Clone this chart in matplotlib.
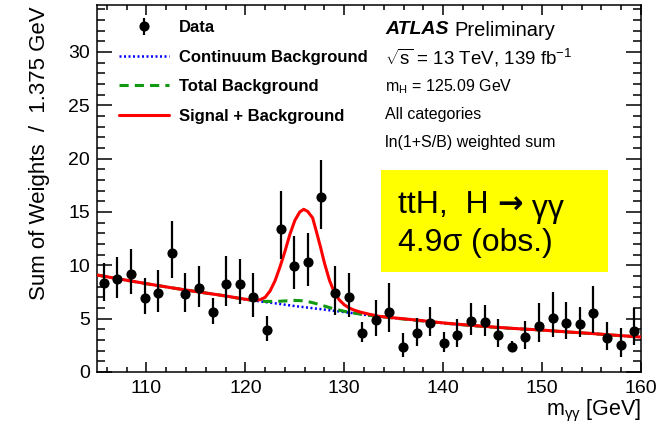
import matplotlib
matplotlib.use("Agg")
import matplotlib.pyplot as plt
from matplotlib.ticker import MultipleLocator, FixedLocator
from matplotlib.patches import Rectangle

plt.rcParams['font.family'] = ['Liberation Sans', 'DejaVu Sans']
plt.rcParams['mathtext.fontset'] = 'custom'
plt.rcParams['mathtext.rm'] = 'Liberation Sans'
plt.rcParams['mathtext.it'] = 'Liberation Sans:italic'
plt.rcParams['mathtext.bf'] = 'Liberation Sans:bold'

# ---------------- data ----------------
bin_centers = [105.6875, 107.0625, 108.4375, 109.8125, 111.1875, 112.5625, 113.9375, 115.3125,
               116.6875, 118.0625, 119.4375, 120.8125, 122.1875, 123.5625, 124.9375, 126.3125,
               127.6875, 129.0625, 130.4375, 131.8125, 133.1875, 134.5625, 135.9375, 137.3125,
               138.6875, 140.0625, 141.4375, 142.8125, 144.1875, 145.5625, 146.9375, 148.3125,
               149.6875, 151.0625, 152.4375, 153.8125, 155.1875, 156.5625, 157.9375, 159.3125]
data_values = [8.31, 8.69, 9.18, 6.94, 7.44, 11.15, 7.28, 7.84, 5.59, 8.22,
               8.25, 7.06, 3.94, 13.43, 9.96, 10.31, 16.37, 7.37, 7.00, 3.62,
               4.87, 5.65, 2.37, 3.62, 4.56, 2.75, 3.47, 4.80, 4.66, 3.47,
               2.31, 3.31, 4.34, 5.09, 4.59, 4.53, 5.50, 3.22, 2.53, 3.87]
err_up = [1.90, 2.06, 2.32, 1.86, 2.16, 3.00, 2.02, 2.09, 1.31, 2.65,
          2.35, 2.24, 1.31, 3.57, 2.79, 2.69, 3.53, 2.59, 2.25, 1.04,
          1.88, 2.65, 1.25, 1.41, 1.50, 1.00, 1.47, 1.70, 1.62, 1.50,
          0.63, 1.50, 2.10, 2.44, 1.94, 1.53, 2.59, 1.50, 1.63, 2.10]
err_down = [1.70, 1.79, 1.88, 1.54, 1.79, 2.35, 1.63, 1.74, 1.09, 2.02,
            1.85, 1.86, 1.04, 2.83, 2.21, 2.25, 2.97, 2.03, 1.80, 0.84,
            1.47, 1.87, 0.94, 1.19, 1.16, 0.85, 1.10, 1.33, 1.26, 1.10,
            0.41, 1.15, 1.50, 1.78, 1.50, 1.22, 1.88, 1.16, 1.09, 1.34]

# continuum background curve
cont_m = [105.0, 107.5, 110.0, 112.5, 115.0, 117.5, 120.0, 121.0, 122.0, 123.0, 124.0, 125.0,
          126.0, 127.0, 128.0, 129.0, 130.0, 131.0, 132.0, 132.5, 135.0, 137.5, 140.0, 142.5,
          145.0, 147.5, 150.0, 152.5, 155.0, 157.5, 160.0]
cont_y = [9.09, 8.68, 8.28, 7.90, 7.54, 7.20, 6.80, 6.68, 6.56, 6.44, 6.31, 6.18,
          6.07, 5.96, 5.85, 5.73, 5.62, 5.50, 5.37, 5.30, 5.06, 4.82, 4.58, 4.38,
          4.20, 4.05, 3.92, 3.75, 3.60, 3.43, 3.27]

# total background curve
totbkg_m = [105.0, 107.5, 110.0, 112.5, 115.0, 117.5, 120.0, 121.0, 122.0, 123.0, 124.0, 125.0,
            126.0, 127.0, 128.0, 129.0, 130.0, 131.0, 132.0, 132.5, 135.0, 137.5, 140.0, 142.5,
            145.0, 147.5, 150.0, 152.5, 155.0, 157.5, 160.0]
totbkg_y = [9.09, 8.68, 8.28, 7.90, 7.54, 7.20, 6.80, 6.70, 6.62, 6.61, 6.66, 6.71,
            6.67, 6.45, 6.18, 5.90, 5.69, 5.52, 5.38, 5.31, 5.06, 4.82, 4.58, 4.38,
            4.20, 4.05, 3.92, 3.75, 3.60, 3.43, 3.27]

# signal + background curve
sb_m = [105.0, 107.5, 110.0, 112.5, 115.0, 117.5, 120.0, 121.0, 121.5, 122.0, 122.5, 123.0,
        123.5, 124.0, 124.5, 125.0, 125.5, 125.9, 126.3, 126.8, 127.2, 127.6, 128.0, 128.5,
        129.0, 129.5, 130.0, 130.5, 131.0, 131.6, 132.5, 133.5, 135.0, 137.5, 140.0, 142.5,
        145.0, 147.5, 150.0, 152.5, 155.0, 157.5, 160.0]
sb_y = [9.09, 8.68, 8.28, 7.90, 7.54, 7.20, 6.82, 6.73, 6.78, 7.00, 7.60, 8.55,
        9.85, 11.30, 12.90, 14.20, 15.00, 15.25, 15.05, 14.45, 13.10, 11.70, 10.20, 8.60,
        7.45, 6.75, 6.30, 6.00, 5.80, 5.62, 5.42, 5.22, 5.08, 4.85, 4.60, 4.40,
        4.22, 4.06, 3.93, 3.76, 3.61, 3.44, 3.28]

x_ticks = [110, 120, 130, 140, 150, 160]
y_ticks = [0, 5, 10, 15, 20, 25, 30]

# ---------------- figure ----------------
W, H = 668, 428
fig = plt.figure(figsize=(W / 100, H / 100), dpi=100)
ax = fig.add_axes([97 / W, 1 - 372 / H, 544 / W, 367 / H])

l_cont, = ax.plot(cont_m, cont_y, color='#0000ff', lw=1.8, linestyle=(0, (0.8, 1.0)),
                  label='Continuum Background', zorder=2)
l_tot, = ax.plot(totbkg_m, totbkg_y, color='#119911', lw=2.2, linestyle=(0, (3, 2)),
                 label='Total Background', zorder=3)
l_sb, = ax.plot(sb_m, sb_y, color='#ff0000', lw=2.2, label='Signal + Background', zorder=4,
                solid_capstyle='round')
eb = ax.errorbar(bin_centers, data_values, yerr=[err_down, err_up], fmt='o', color='black',
                 ms=6.3, elinewidth=1.6, capsize=0, label='Data', zorder=5)

ax.set_xlim(105, 160)
ax.set_ylim(0, 34.4)
ax.xaxis.set_major_locator(FixedLocator(x_ticks))
ax.xaxis.set_minor_locator(MultipleLocator(2))
ax.yaxis.set_major_locator(FixedLocator(y_ticks))
ax.yaxis.set_minor_locator(MultipleLocator(1))
ax.tick_params(which='both', direction='in', top=True, right=True, width=1.1,
               labelsize=14, colors='black')
ax.tick_params(axis='x', which='major', length=7.5, pad=6)
ax.tick_params(axis='x', which='minor', length=3.8)
ax.tick_params(axis='y', which='major', length=11, pad=5)
ax.tick_params(axis='y', which='minor', length=5.5)
for s in ax.spines.values():
    s.set_linewidth(1.1)

fig.text(40 / W, 1 - 6 / H, 'Sum of Weights  /  1.375 GeV', rotation=90, ha='center',
         va='top', fontsize=16)
fig.text(641 / W, 1 - 411 / H, r'm$_{\mathrm{γγ}}$ [GeV]', ha='right', va='center',
         fontsize=15.5)

# legend
leg = ax.legend(handles=[eb, l_cont, l_tot, l_sb], loc='upper left',
                bbox_to_anchor=(119 / W, 1 - 20 / H), bbox_transform=fig.transFigure,
                frameon=False, prop={'weight': 'bold', 'size': 12},
                handlelength=3.0, handletextpad=0.6, labelspacing=0.88, borderpad=0,
                borderaxespad=0)

# ATLAS label block
t_atlas = ax.text(385 / W, 1 - 30 / H, 'ATLAS', fontweight='bold', fontstyle='italic',
                  fontsize=14, va='center', ha='left', transform=fig.transFigure)
ax.annotate('Preliminary', xy=(1, 0.5), xycoords=t_atlas, xytext=(4, 0),
            textcoords='offset points', va='center', ha='left', fontsize=14.5)
ax.text(385 / W, 1 - 58 / H, r'$\sqrt{\mathrm{s}}$ = 13 TeV, 139 fb$^{-1}$', fontsize=13.5,
        va='center', ha='left', transform=fig.transFigure)
ax.text(385 / W, 1 - 87 / H, r'm$_{\mathrm{H}}$ = 125.09 GeV', fontsize=11.5,
        va='center', ha='left', transform=fig.transFigure)
ax.text(385 / W, 1 - 115 / H, 'All categories', fontsize=11.5, va='center', ha='left',
        transform=fig.transFigure)
ax.text(385 / W, 1 - 143 / H, 'ln(1+S/B) weighted sum', fontsize=11.5, va='center', ha='left',
        transform=fig.transFigure)

# yellow box
ax.add_patch(Rectangle((381 / W, 1 - 272 / H), 227 / W, 102 / H, transform=fig.transFigure,
                       facecolor='#ffff00', edgecolor='none', zorder=6, clip_on=False))
t1 = ax.text(398 / W, 1 - 205 / H, 'ttH,  H ', fontsize=23, va='center', ha='left', zorder=7,
             transform=fig.transFigure)
t2 = ax.annotate('\u2192', xy=(1, 0.5), xycoords=t1, xytext=(0, 0), textcoords='offset points',
                 va='center', ha='left', fontsize=22, fontweight='bold',
                 family='DejaVu Sans', zorder=7)
ax.annotate(' \u03b3\u03b3', xy=(1, 0.5), xycoords=t2, xytext=(0, -3), textcoords='offset points',
            va='center', ha='left', fontsize=23, zorder=7)
ax.text(398 / W, 1 - 243 / H, '4.9\u03c3 (obs.)', fontsize=23, va='center', ha='left', zorder=7,
        transform=fig.transFigure)

fig.savefig('out.png', dpi=100)
